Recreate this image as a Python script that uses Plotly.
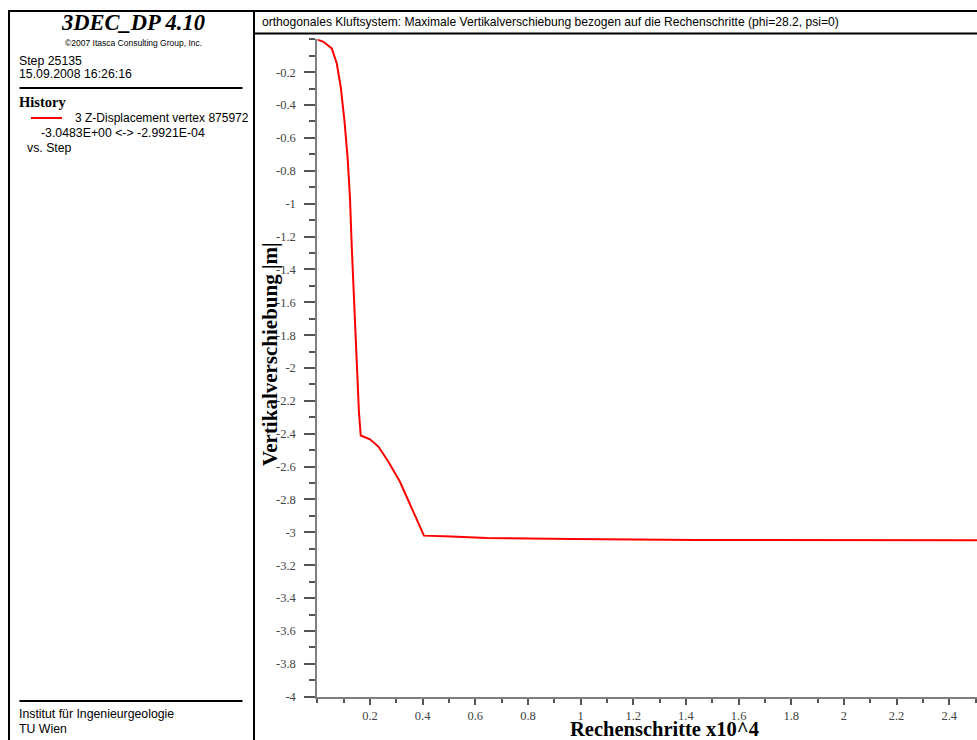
import plotly.graph_objects as go

# ---- data (x in steps x10^4, y displacement in m) ----
steps = [0.0, 0.023, 0.055, 0.074, 0.089, 0.103, 0.115, 0.124, 0.131, 0.141,
         0.150, 0.158, 0.165, 0.200, 0.232, 0.270, 0.314, 0.365, 0.405, 0.510,
         0.643, 0.966, 1.438, 2.5135]
disp = [-0.0003, -0.015, -0.055, -0.147, -0.290, -0.493, -0.717, -0.962, -1.267, -1.674,
        -1.979, -2.265, -2.411, -2.434, -2.478, -2.570, -2.692, -2.875, -3.020, -3.025,
        -3.035, -3.041, -3.047, -3.0483]

x_tickvals = [0.2, 0.4, 0.6, 0.8, 1.0, 1.2, 1.4, 1.6, 1.8, 2.0, 2.2, 2.4]
x_ticktext = ["0.2", "0.4", "0.6", "0.8", "1", "1.2", "1.4", "1.6", "1.8", "2", "2.2", "2.4"]
y_tickvals = [-0.2 * i for i in range(1, 21)]
y_ticktext = ["-0.2", "-0.4", "-0.6", "-0.8", "-1", "-1.2", "-1.4", "-1.6", "-1.8", "-2",
              "-2.2", "-2.4", "-2.6", "-2.8", "-3", "-3.2", "-3.4", "-3.6", "-3.8", "-4"]

W, H = 977, 740
HM = 733.0  # effective rendered height used for paper mapping
def px(x):
    return x / W
def py(y):
    return 1 - y / HM

SANS = "Liberation Sans, Arial, sans-serif"
SERIF = "Liberation Serif, Times New Roman, serif"

fig = go.Figure()
fig.add_trace(go.Scatter(x=steps, y=disp, mode="lines",
                         line=dict(color="#ff0000", width=2),
                         cliponaxis=False, showlegend=False))

axis_common = dict(showgrid=False, zeroline=False, showline=True,
                   linecolor="#7f7f7f", linewidth=2, ticks="outside",
                   tickcolor="#555555", tickwidth=2,
                   tickfont=dict(family=SERIF, size=12.5, color="#444444"))

fig.update_layout(
    width=W, height=H, autosize=False,
    margin=dict(l=0, r=0, t=0, b=0),
    paper_bgcolor="white", plot_bgcolor="white",
    xaxis=dict(domain=[px(317.3), 1.0], range=[0, 2.5055],
               tickvals=x_tickvals, ticktext=x_ticktext, ticklen=6,
               minor=dict(dtick=0.1, tick0=0, ticklen=4, ticks="outside",
                          tickcolor="#555555", tickwidth=2),
               **axis_common),
    yaxis=dict(domain=[py(696.7), py(39.3)], range=[-4, 0],
               tickvals=y_tickvals, ticktext=y_ticktext, ticklen=11,
               ticklabelstandoff=6,
               minor=dict(dtick=0.1, tick0=0, ticklen=6, ticks="outside",
                          tickcolor="#555555", tickwidth=2),
               **axis_common),
)

shapes = []
def hline(x0, x1, y, w=2):
    shapes.append(dict(type="line", xref="paper", yref="paper",
                       x0=px(x0), x1=px(x1), y0=py(y), y1=py(y),
                       line=dict(color="black", width=w)))
def vline(x, y0, y1, w=2):
    shapes.append(dict(type="line", xref="paper", yref="paper",
                       x0=px(x), x1=px(x), y0=py(y0), y1=py(y1),
                       line=dict(color="black", width=w)))

vline(9, 10, 760)
vline(254, 10, 760)
hline(8, 980, 11)
hline(254, 980, 33.5)
hline(19.5, 242.5, 88)
hline(19.5, 242.5, 701)
# legend swatch
shapes.append(dict(type="line", xref="paper", yref="paper",
                   x0=px(31), x1=px(62), y0=py(118), y1=py(118),
                   line=dict(color="#ff0000", width=2)))
fig.update_layout(shapes=shapes)

ann = []
def text(x, y, s, size, family=SANS, anchor="left", bold=False, italic=False, color="black"):
    if bold:
        s = "<b>" + s + "</b>"
    if italic:
        s = "<i>" + s + "</i>"
    ann.append(dict(x=px(x), y=py(y), xref="paper", yref="paper", text=s,
                    showarrow=False, xanchor=anchor, yanchor="middle",
                    font=dict(family=family, size=size, color=color)))

text(133, 23, "3DEC_DP 4.10", 22.5, family=SERIF, anchor="center", bold=True, italic=True)
text(133, 43, "©2007 Itasca Consulting Group, Inc.", 8.5, anchor="center")
text(17, 61, "Step 25135", 12.3)
text(17, 74, "15.09.2008 16:26:16", 12.3)
text(17, 102, "History", 14.5, family=SERIF, bold=True)
text(73, 118, "3 Z-Displacement vertex 875972", 12)
text(39, 133, "-3.0483E+00 &lt;-&gt; -2.9921E-04", 12.3)
text(25, 148, "vs. Step", 12.3)
text(17, 714, "Institut für Ingenieurgeologie", 12.3)
text(17, 729, "TU Wien", 12.3)
text(260, 22,
     "orthogonales Kluftsystem: Maximale Vertikalverschiebung bezogen auf die Rechenschritte (phi=28.2, psi=0)",
     12.1)
text(664, 729, "Rechenschritte x10^4", 20.5, family=SERIF, anchor="center", bold=True)
ann.append(dict(x=px(270), y=py(354), xref="paper", yref="paper",
                text="<b>Vertikalverschiebung |m|</b>", textangle=-90,
                showarrow=False, xanchor="center", yanchor="middle",
                font=dict(family=SERIF, size=21, color="black")))
fig.update_layout(annotations=ann)

fig.write_html("out.html")
